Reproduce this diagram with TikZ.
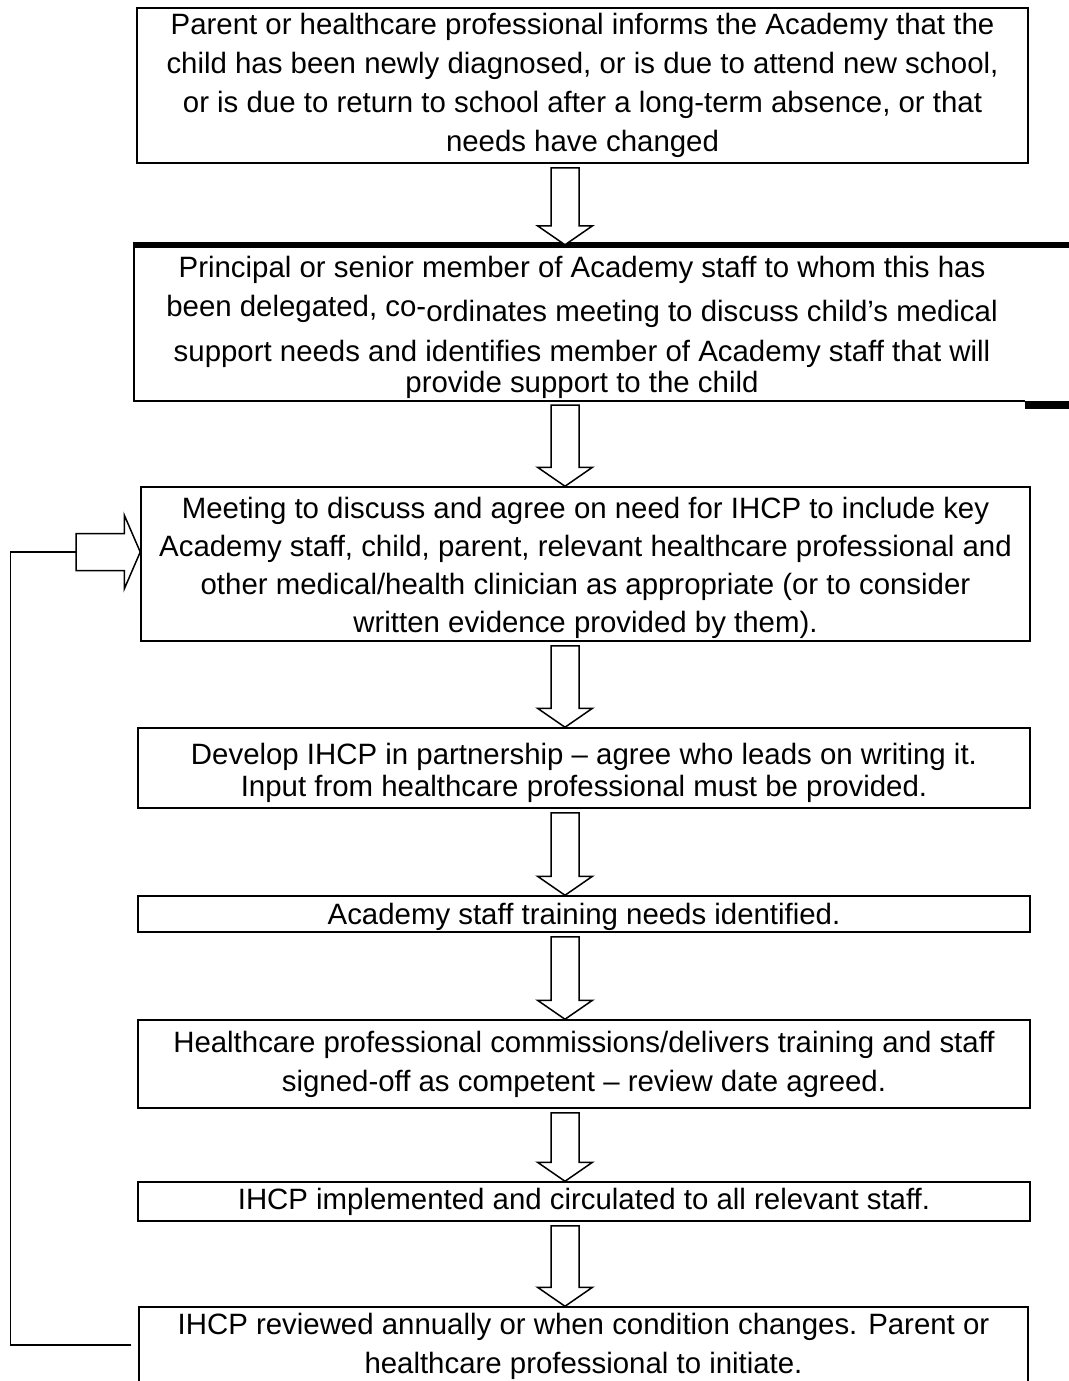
\documentclass[tikz,border=0pt]{standalone}
\usepackage{fontspec}
\setmainfont{Liberation Sans}
\usetikzlibrary{calc}
\newcommand{\topgap}[1]{\rule{0pt}{#1pt}}
\tikzset{
  box/.style={draw,line width=1.5pt,inner sep=0pt,align=center},
  downarrow/.style={draw,line width=1.5pt,fill=white,to path={let \p1=(\tikztostart),\p2=(\tikztotarget) in
    (\x1-14pt,\y1-4pt) -- (\x1+14pt,\y1-4pt) -- (\x1+14pt,\y2+19pt) -- (\x1+27.5pt,\y2+19pt) -- (\x1,\y2)
    -- (\x1-27.5pt,\y2+19pt) -- (\x1-14pt,\y2+19pt) -- cycle}},
  rightarrow/.style={draw,line width=1.5pt,fill=white,to path={let \p1=(\tikztostart),\p2=(\tikztotarget) in
    (\x1,\y1+18.5pt) -- (\x2-16pt,\y1+18.5pt) -- (\x2-16pt,\y1+37pt) -- (\x2,\y1) -- (\x2-16pt,\y1-37pt)
    -- (\x2-16pt,\y1-18.5pt) -- (\x1,\y1-18.5pt) -- cycle}}
}
\begin{document}
\begin{tikzpicture}[x=1pt,y=-1pt,font=\fontsize{29.4}{39}\selectfont]
\useasboundingbox (0,0) rectangle (1068,1381);
\node[box,minimum width=891,minimum height=155] (b1) at (582.5,85.5) {Parent or healthcare professional informs the Academy that the\\ child has been newly diagnosed, or is due to attend new school,\\ or is due to return to school after a long-term absence, or that\\ needs have changed};
\node[inner sep=0pt,align=center,minimum width=896,minimum height=156] (b2) at (582,323) {\topgap{31}Principal or senior member of Academy staff to whom this has\\[5pt] \raisebox{5pt}{been delegated, co-}ordinates meeting to discuss child's medical\\[1pt] support needs and identifies member of Academy staff that will\\[-8pt] provide support to the child};
\node[box,minimum width=889,minimum height=154] (b3) at (585.5,564) {\topgap{28.5}Meeting to discuss and agree on need for IHCP to include key\\[-1pt] Academy staff, child, parent, relevant healthcare professional and\\[-1pt] other medical/health clinician as appropriate (or to consider\\[-1pt] written evidence provided by them).};
\node[box,minimum width=892,minimum height=80] (b4) at (584,768) {\topgap{32}Develop IHCP in partnership -- agree who leads on writing it.\\[-7pt] Input from healthcare professional must be provided.};
\node[box,minimum width=892,minimum height=36] (b5) at (584,914) {\topgap{27.5}Academy staff training needs identified.};
\node[box,minimum width=892,minimum height=88] (b6) at (584,1064) {Healthcare professional commissions/delivers training and staff\\ signed-off as competent -- review date agreed.};
\node[box,minimum width=892,minimum height=39] (b7) at (584,1201.5) {IHCP implemented and circulated to all relevant staff.};
\node[box,minimum width=889,minimum height=76] (b8) at (583.5,1345) {\topgap{25}IHCP reviewed annually or when condition changes. Parent or\\ healthcare professional to initiate.};
% open box with heavy top rule
\draw[line width=6pt] ([xshift=-1pt]b2.north west) -- ++(945,0);
\draw[line width=1.5pt] (b2.north west) -- (b2.south west) -- ([xshift=-5pt]b2.south east);
\fill ([xshift=-5pt]b2.south east) rectangle ++(50,8);
\coordinate (ax) at (565,0);
\foreach \a/\b in {b1/b2,b2/b3,b3/b4,b4/b5,b5/b6,b6/b7,b7/b8}
  \draw[downarrow] (\a.south -| ax) to (\b.north -| ax);
% review loop back to the meeting
\coordinate (tail) at (76,552); \coordinate (loop) at (10.7,552);
\draw[line width=1.5pt] ([xshift=-7pt]b8.west) -| (loop) -- (tail);
\draw[rightarrow] (tail) to (tail -| b3.west);
\end{tikzpicture}
\end{document}
